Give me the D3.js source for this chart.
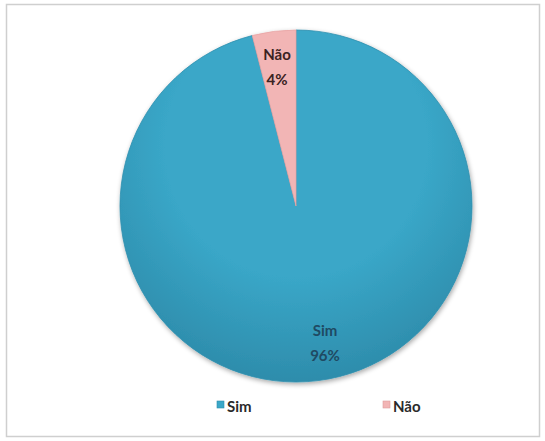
<!DOCTYPE html>
<html><head><meta charset="utf-8">
<script src="https://cdn.jsdelivr.net/npm/d3@7"></script>
<style>body{margin:0;background:#fff}svg{display:block}</style>
</head><body>
<script>
const categories = ["Sim", "Não"];
const values = [96, 4];
const labels = ["96%", "4%"];
const colors = ["#3aa7c8", "#f2b5b5"];
const darkColors = ["#2d8cab", "#dc9c9c"];

const W = 545, H = 441;
const svg = d3.select("body").append("svg").attr("width", W).attr("height", H);
const defs = svg.append("defs");

// frame
svg.append("rect").attr("x", 6.5).attr("y", 4.5).attr("width", 533).attr("height", 432)
  .attr("fill", "#fff").attr("stroke", "#cfcfcf").attr("stroke-width", 1.5);

const cx = 296, cy = 206, R = 176;

const f = defs.append("filter").attr("id", "sh").attr("x", "-20%").attr("y", "-20%").attr("width", "140%").attr("height", "140%");
f.append("feGaussianBlur").attr("in", "SourceAlpha").attr("stdDeviation", 2.5).attr("result", "b");
f.append("feOffset").attr("in", "b").attr("dx", 1).attr("dy", 2).attr("result", "o");
f.append("feComponentTransfer").attr("in", "o").attr("result", "o2")
  .append("feFuncA").attr("type", "linear").attr("slope", 0.35);
const m = f.append("feMerge");
m.append("feMergeNode").attr("in", "o2");
m.append("feMergeNode").attr("in", "SourceGraphic");

colors.forEach((c, i) => {
  const g = defs.append("radialGradient").attr("id", "g" + i)
    .attr("gradientUnits", "userSpaceOnUse").attr("cx", 0).attr("cy", -60).attr("r", R * 1.35);
  g.append("stop").attr("offset", "0%").attr("stop-color", c);
  g.append("stop").attr("offset", "55%").attr("stop-color", c);
  g.append("stop").attr("offset", "100%").attr("stop-color", darkColors[i]);
});

const pie = d3.pie().sort(null).value(d => d.v);
const data = categories.map((k, i) => ({k, v: values[i], l: labels[i], i}));
const arcs = pie(data);
const arc = d3.arc().innerRadius(0).outerRadius(R);

const g = svg.append("g").attr("transform", `translate(${cx},${cy})`).attr("filter", "url(#sh)");
g.selectAll("path").data(arcs).join("path")
  .attr("d", arc)
  .attr("fill", (d, i) => `url(#g${i})`)
  .attr("stroke", (d, i) => i === 0 ? "#2f8fae" : "#e8a6a6")
  .attr("stroke-width", 0.8);

// labels
const labelPos = [{x: 325, y: 331}, {x: 277, y: 55}];
const textColors = ["#1f4a63", "#3a2222"];
arcs.forEach((a, i) => {
  const t = svg.append("text").attr("text-anchor", "middle")
    .attr("font-family", "Lato, 'Open Sans', sans-serif").attr("font-weight", "bold")
    .attr("font-size", 15).attr("fill", textColors[i]);
  t.append("tspan").attr("x", labelPos[i].x).attr("y", labelPos[i].y + 5).text(a.data.k);
  t.append("tspan").attr("x", labelPos[i].x).attr("dy", 25).text(a.data.l);
});

// legend
const legX = [217, 383];
const leg = svg.append("g");
data.forEach((d, i) => {
  leg.append("rect").attr("x", legX[i]).attr("y", 401).attr("width", 7).attr("height", 7)
    .attr("fill", colors[i]).attr("stroke", darkColors[i]).attr("stroke-width", 0.6);
  leg.append("text").attr("x", legX[i] + 10).attr("y", 412)
    .attr("font-family", "Lato, 'Open Sans', sans-serif").attr("font-weight", "bold")
    .attr("font-size", 15).attr("fill", "#2a2a2a").text(d.k);
});
</script>
</body></html>
